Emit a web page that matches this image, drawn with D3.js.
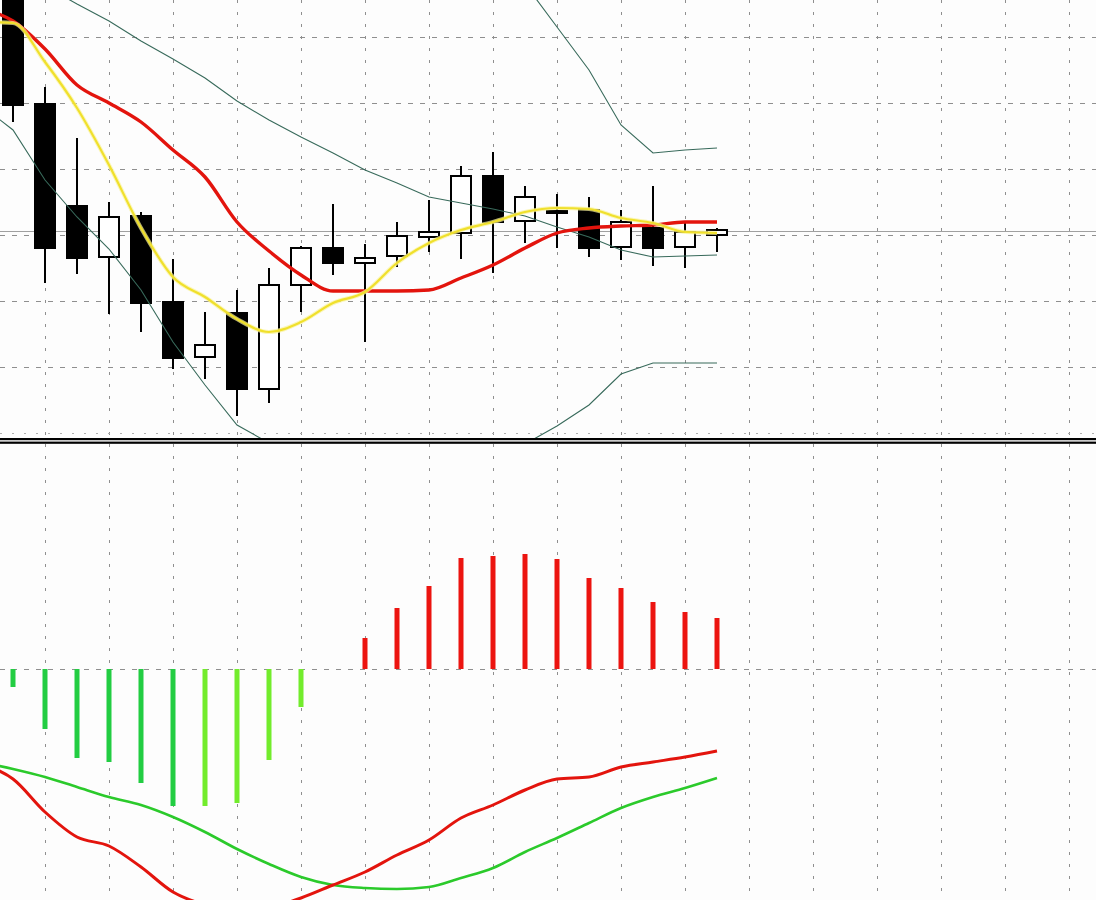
<!DOCTYPE html>
<html>
<head>
<meta charset="utf-8">
<script src="https://cdn.jsdelivr.net/npm/d3@7"></script>
<style>
html,body{margin:0;padding:0;background:#fdfdfd;}
svg{display:block;}
</style>
</head>
<body>
<div id="chart"></div>
<script>
// ---- data (bar 0 is the bar just left of the visible area) ----
const times = ["05.07","05.08","05.11","05.12","05.13","05.14","05.15","05.18","05.19","05.20","05.21","05.22",
               "05.25","05.26","05.27","05.28","05.29","06.01","06.02","06.03","06.04","06.05","06.08","06.09"];
const open  = [1.2493,1.2458,1.2329,1.2227,1.2176,1.2217,1.2131,1.2076,1.2120,1.2044,1.2148,1.2185,1.2170,1.2177,1.2196,1.2200,1.2257,1.2212,1.2220,1.2223,1.2186,1.2205,1.2186,1.2198];
const high  = [1.2503,1.2468,1.2346,1.2295,1.2231,1.2221,1.2174,1.2121,1.2143,1.2165,1.2187,1.2229,1.2189,1.2211,1.2233,1.2267,1.2281,1.2247,1.2239,1.2236,1.2223,1.2247,1.2210,1.2205];
const low   = [1.2433,1.2311,1.2150,1.2159,1.2119,1.2101,1.2064,1.2054,1.2017,1.2030,1.2121,1.2158,1.2091,1.2166,1.2181,1.2174,1.2160,1.2190,1.2185,1.2176,1.2173,1.2167,1.2165,1.2181];
const close = [1.2453,1.2328,1.2185,1.2175,1.2216,1.2130,1.2075,1.2088,1.2044,1.2148,1.2185,1.2170,1.2175,1.2197,1.2201,1.2257,1.2211,1.2236,1.2222,1.2185,1.2211,1.2185,1.2201,1.2203];
const maSlow = [1.2425,1.2412,1.2384,1.2348,1.2330,1.2311,1.2283,1.2256,1.2211,1.2182,1.2158,1.2142,1.2142,1.2142,1.2143,1.2155,1.2168,1.2185,1.2200,1.2205,1.2207,1.2208,1.2211,1.2211];
const maFast = [1.2411,1.2410,1.2371,1.2325,1.2268,1.2205,1.2156,1.2136,1.2114,1.2101,1.2111,1.2130,1.2141,1.2170,1.2190,1.2203,1.2211,1.2221,1.2225,1.2224,1.2215,1.2210,1.2201,1.2200];
const bbUpper  = [1.2634,1.2625,1.2641,1.2642,1.2640,1.2641,1.2655,1.2660,1.2658,1.2632,1.2621,1.2611,1.2589,1.2572,1.2544,1.2522,1.2485,1.2449,1.2406,1.2363,1.2308,1.2280,1.2283,1.2285];
const bbMiddle = [1.2481,1.2464,1.2447,1.2429,1.2412,1.2392,1.2374,1.2355,1.2332,1.2313,1.2296,1.2280,1.2263,1.2250,1.2236,1.2230,1.2224,1.2217,1.2206,1.2196,1.2183,1.2176,1.2177,1.2178];
const bbLower  = [1.2328,1.2303,1.2253,1.2216,1.2184,1.2143,1.2091,1.2048,1.2008,1.1990,1.1963,1.1943,1.1933,1.1928,1.1928,1.1938,1.1963,1.1989,1.2007,1.2028,1.2059,1.2070,1.2070,1.2070];
const macdHist   = [-0.00005,-0.00018,-0.00060,-0.00089,-0.00093,-0.00114,-0.00137,-0.00137,-0.00134,-0.00091,-0.00038,0,0.00031,0.00061,0.00083,0.00111,0.00113,0.00115,0.00110,0.00091,0.00081,0.00067,0.00057,0.00051];
const macdMain   = [-0.00095,-0.00110,-0.00143,-0.00168,-0.00177,-0.00198,-0.00223,-0.00236,-0.00243,-0.00239,-0.00229,-0.00216,-0.00203,-0.00186,-0.00171,-0.00149,-0.00136,-0.00121,-0.00110,-0.00108,-0.00098,-0.00093,-0.00088,-0.00082];
const macdSignal = [-0.00093,-0.00100,-0.00108,-0.00118,-0.00128,-0.00136,-0.00148,-0.00163,-0.00180,-0.00195,-0.00208,-0.00216,-0.00219,-0.00220,-0.00218,-0.00209,-0.00199,-0.00183,-0.00169,-0.00154,-0.00139,-0.00128,-0.00119,-0.00109];
const priceTicks = [1.2396,1.2330,1.2264,1.2198,1.2132,1.2066];
const priceBottomTick = 1.2000;
const currentPrice = 1.22015;
const gridBarStep = 2;   // a vertical grid line every 2 bars
const gridBarCount = 36;

// ---- layout ----
const W = 1096, H = 900;
const mainTop = 0, mainBottom = 438;
const subTop = 444, subBottom = 900;

const svg = d3.select("#chart").append("svg").attr("width", W).attr("height", H);
svg.append("rect").attr("width", W).attr("height", H).attr("fill", "#fdfdfd");

const x = d3.scaleLinear().domain([0, times.length - 1]).range([-19, 717]);
const y = d3.scaleLinear().domain([1.2000, 1.2433]).range([433, 0]);
const ym = d3.scaleLinear().domain([-0.0023, 0.0023]).range([899, 439]);

const defs = svg.append("defs");
defs.append("clipPath").attr("id", "clipMain").append("rect")
  .attr("x", 0).attr("y", mainTop).attr("width", W).attr("height", mainBottom - mainTop);
defs.append("clipPath").attr("id", "clipSub").append("rect")
  .attr("x", 0).attr("y", subTop).attr("width", W).attr("height", subBottom - subTop);

const gridColor = "#8f8f8f";
const gridIdx = d3.range(gridBarStep, gridBarCount, gridBarStep);

// ---- main panel grid ----
const gMain = svg.append("g").attr("clip-path", "url(#clipMain)");
gMain.selectAll("line.vg").data(gridIdx).join("line")
  .attr("x1", d => Math.round(x(d)) + 0.5).attr("x2", d => Math.round(x(d)) + 0.5)
  .attr("y1", mainTop).attr("y2", mainBottom)
  .attr("stroke", gridColor).attr("stroke-width", 1).attr("stroke-dasharray", "3,9");
gMain.selectAll("line.hg").data(priceTicks).join("line")
  .attr("x1", 0).attr("x2", W)
  .attr("y1", d => Math.round(y(d)) + 0.5).attr("y2", d => Math.round(y(d)) + 0.5)
  .attr("stroke", gridColor).attr("stroke-width", 1).attr("stroke-dasharray", "5,7");
gMain.append("line")
  .attr("x1", 0).attr("x2", W)
  .attr("y1", Math.round(y(priceBottomTick)) + 0.5).attr("y2", Math.round(y(priceBottomTick)) + 0.5)
  .attr("stroke", "#b0b0b0").attr("stroke-width", 1).attr("stroke-dasharray", "2,10");
// current price line
gMain.append("line")
  .attr("x1", 0).attr("x2", W)
  .attr("y1", y(currentPrice)).attr("y2", y(currentPrice))
  .attr("stroke", "#a0a0a0").attr("stroke-width", 1);

// ---- candles ----
const idx = d3.range(times.length);
const bodyW = 20;
const gC = gMain.append("g");
gC.selectAll("line.wick").data(idx).join("line")
  .attr("x1", i => x(i)).attr("x2", i => x(i))
  .attr("y1", i => y(high[i])).attr("y2", i => y(low[i]))
  .attr("stroke", "#000").attr("stroke-width", 2);
gC.selectAll("rect.body").data(idx).join("rect")
  .attr("x", i => x(i) - bodyW / 2).attr("width", bodyW)
  .attr("y", i => y(Math.max(open[i], close[i])))
  .attr("height", i => Math.max(1, Math.abs(y(open[i]) - y(close[i]))))
  .attr("fill", i => close[i] >= open[i] ? "#ffffff" : "#000000")
  .attr("stroke", "#000").attr("stroke-width", 2);

// ---- bollinger bands ----
const lineGen = arr => d3.line().x((d, i) => x(i)).y(d => y(d))(arr);
const smoothGen = arr => d3.line().curve(d3.curveMonotoneX).x((d, i) => x(i)).y(d => y(d))(arr);
[bbUpper, bbMiddle, bbLower].forEach(arr => {
  gMain.append("path").attr("d", lineGen(arr))
    .attr("fill", "none").attr("stroke", "#386a5b").attr("stroke-width", 1.1);
});

// ---- moving averages ----
gMain.append("path").attr("d", smoothGen(maSlow))
  .attr("fill", "none").attr("stroke", "#e3140d").attr("stroke-width", 3.4)
  .attr("stroke-linejoin", "round");
gMain.append("path").attr("d", smoothGen(maFast))
  .attr("fill", "none").attr("stroke", "#faf29a").attr("stroke-width", 4.2)
  .attr("stroke-linejoin", "round").attr("opacity", 0.7);
gMain.append("path").attr("d", smoothGen(maFast))
  .attr("fill", "none").attr("stroke", "#f0e02c").attr("stroke-width", 2.2)
  .attr("stroke-linejoin", "round");

// ---- separator ----
svg.append("rect").attr("x", 0).attr("y", 438).attr("width", W).attr("height", 2.2).attr("fill", "#000");
svg.append("rect").attr("x", 0).attr("y", 441.6).attr("width", W).attr("height", 2.2).attr("fill", "#000");

// ---- sub panel (MACD) ----
const gSub = svg.append("g").attr("clip-path", "url(#clipSub)");
gSub.selectAll("line.vg").data(gridIdx).join("line")
  .attr("x1", d => Math.round(x(d)) + 0.5).attr("x2", d => Math.round(x(d)) + 0.5)
  .attr("y1", subTop).attr("y2", subBottom)
  .attr("stroke", gridColor).attr("stroke-width", 1).attr("stroke-dasharray", "3,9");
gSub.append("line")
  .attr("x1", 0).attr("x2", W)
  .attr("y1", Math.round(ym(0)) + 0.5).attr("y2", Math.round(ym(0)) + 0.5)
  .attr("stroke", gridColor).attr("stroke-width", 1).attr("stroke-dasharray", "5,7");

const histColor = i => {
  const v = macdHist[i];
  if (v > 0) return "#ec1410";
  const prev = i > 0 ? macdHist[i - 1] : v;
  return v >= prev ? "#72ec2c" : "#22cd42";
};
gSub.selectAll("rect.hist").data(idx.filter(i => macdHist[i] !== 0)).join("rect")
  .attr("x", i => x(i) - 2.5).attr("width", 5)
  .attr("y", i => Math.min(ym(0), ym(macdHist[i])))
  .attr("height", i => Math.abs(ym(macdHist[i]) - ym(0)))
  .attr("fill", i => histColor(i));

const mLine = arr => d3.line().curve(d3.curveMonotoneX).x((d, i) => x(i)).y(d => ym(d))(arr);
gSub.append("path").attr("d", mLine(macdSignal))
  .attr("fill", "none").attr("stroke", "#2bca2b").attr("stroke-width", 2.6)
  .attr("stroke-linejoin", "round");
gSub.append("path").attr("d", mLine(macdMain))
  .attr("fill", "none").attr("stroke", "#e3140d").attr("stroke-width", 3)
  .attr("stroke-linejoin", "round");
</script>
</body>
</html>
